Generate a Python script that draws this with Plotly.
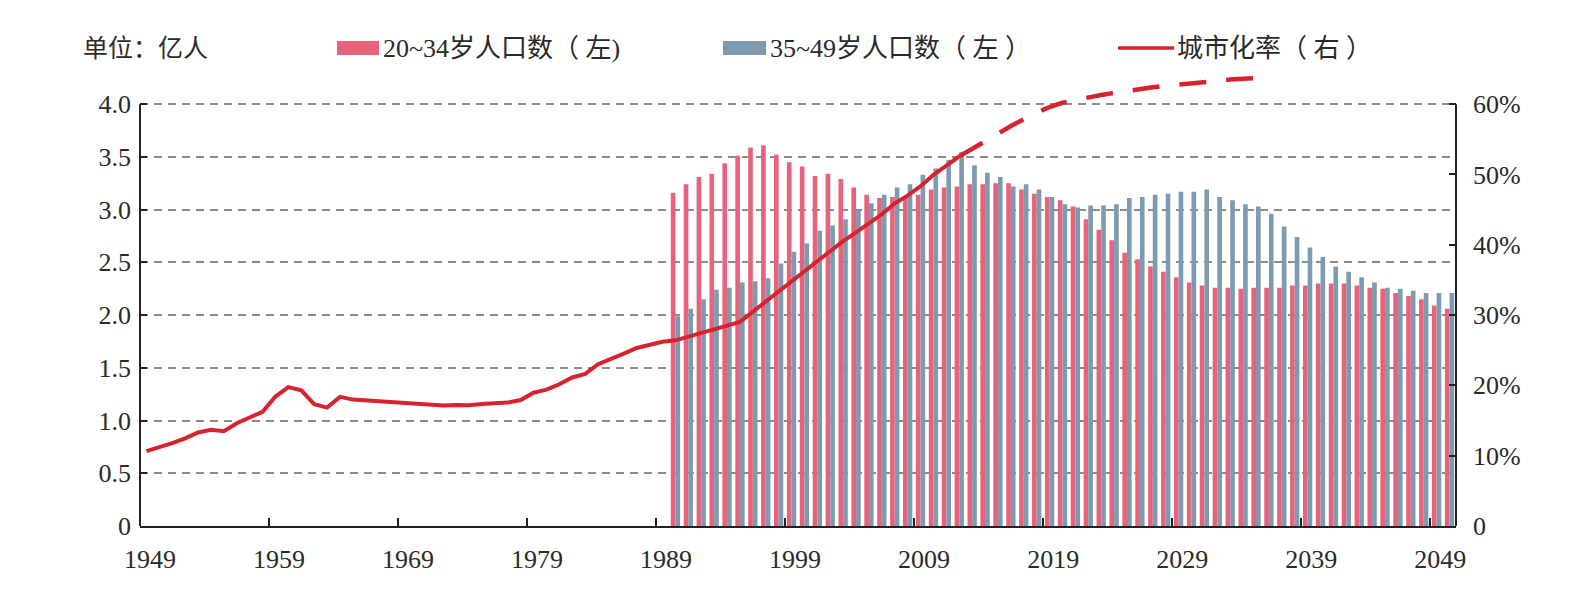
import plotly.graph_objects as go

# ---------------- data ----------------
bar_years = list(range(1990, 2051))
pop_20_34 = [3.16, 3.24, 3.31, 3.34, 3.44, 3.51, 3.59, 3.61, 3.52, 3.45,
             3.41, 3.32, 3.34, 3.29, 3.21, 3.14, 3.11, 3.12, 3.11, 3.14,
             3.19, 3.21, 3.22, 3.24, 3.24, 3.25, 3.25, 3.19, 3.15, 3.12,
             3.09, 3.03, 2.91, 2.81, 2.71, 2.59, 2.53, 2.46, 2.41, 2.36,
             2.31, 2.28, 2.26, 2.26, 2.25, 2.26, 2.26, 2.26, 2.28, 2.28,
             2.30, 2.30, 2.30, 2.28, 2.26, 2.25, 2.21, 2.18, 2.15, 2.09,
             2.06]
pop_35_49 = [1.99, 2.06, 2.15, 2.24, 2.26, 2.31, 2.32, 2.35, 2.49, 2.60,
             2.68, 2.80, 2.85, 2.91, 3.00, 3.06, 3.14, 3.21, 3.24, 3.33,
             3.39, 3.47, 3.55, 3.42, 3.35, 3.31, 3.22, 3.24, 3.19, 3.12,
             3.05, 3.02, 3.04, 3.04, 3.05, 3.11, 3.12, 3.14, 3.15, 3.17,
             3.17, 3.19, 3.12, 3.09, 3.05, 3.03, 2.96, 2.84, 2.74, 2.64,
             2.55, 2.46, 2.41, 2.36, 2.31, 2.26, 2.25, 2.23, 2.21, 2.21,
             2.21]

urban_years = list(range(1949, 2013))
urban_rate = [10.64, 11.18, 11.78, 12.46, 13.31, 13.69, 13.48, 14.62, 15.39, 16.25,
              18.41, 19.75, 19.29, 17.33, 16.84, 18.37, 17.98, 17.86, 17.74, 17.62,
              17.50, 17.38, 17.26, 17.13, 17.20, 17.16, 17.34, 17.44, 17.55, 17.92,
              18.96, 19.39, 20.16, 21.13, 21.62, 23.01, 23.71, 24.52, 25.32, 25.81,
              26.21, 26.41, 26.94, 27.46, 27.99, 28.51, 29.04, 30.48, 31.91, 33.35,
              34.78, 36.22, 37.66, 39.09, 40.53, 41.76, 42.99, 44.34, 45.89, 46.99,
              48.34, 49.95, 51.27, 52.57]

proj_years = list(range(2012, 2036))
urban_proj = [52.57, 53.7, 54.8, 55.8, 56.9, 57.9, 58.8, 59.6, 60.2, 60.6,
              61.0, 61.3, 61.6, 61.9, 62.1, 62.4, 62.6, 62.8, 63.0, 63.2,
              63.3, 63.5, 63.6, 63.7]

left_ticks = [0, 0.5, 1.0, 1.5, 2.0, 2.5, 3.0, 3.5, 4.0]
left_tick_text = ["0", "0.5", "1.0", "1.5", "2.0", "2.5", "3.0", "3.5", "4.0"]
right_ticks = [0, 10, 20, 30, 40, 50, 60]
right_tick_text = ["0", "10%", "20%", "30%", "40%", "50%", "60%"]
x_labels = ["1949", "1959", "1969", "1979", "1989", "1999", "2009", "2019", "2029", "2039", "2049"]

legend_unit = "单位：亿人"
name_a = "20~34岁人口数（ 左)"
name_b = "35~49岁人口数（ 左 ）"
name_c = "城市化率（ 右 ）"

# ---------------- style ----------------
PINK = "#E8627B"
BLUE = "#7D9BAE"
RED = "#D8232F"
TXT = "#2a2a2a"
FONT = "Liberation Serif, 'Noto Sans CJK SC', serif"

fig = go.Figure()
fig.add_trace(go.Bar(x=bar_years, y=pop_20_34, name=name_a, marker_color=PINK,
                     marker_line_width=0, yaxis="y"))
fig.add_trace(go.Bar(x=bar_years, y=pop_35_49, name=name_b, marker_color=BLUE,
                     marker_line_width=0, yaxis="y"))
fig.add_trace(go.Scatter(x=urban_years, y=urban_rate, name=name_c, mode="lines",
                         line=dict(color=RED, width=4), yaxis="y2"))
fig.add_trace(go.Scatter(x=proj_years, y=urban_proj, name=name_c + " 预测", mode="lines",
                         line=dict(color=RED, width=4.5, dash="27px,20px"), yaxis="y2",
                         showlegend=False))

x_tickvals = [int(s) - 0.5 for s in x_labels]

fig.update_layout(
    width=1586, height=596,
    margin=dict(l=140, r=130, t=62, b=70),
    paper_bgcolor="white", plot_bgcolor="white",
    barmode="group", bargap=0.28, bargroupgap=0.0,
    showlegend=False,
    font=dict(family=FONT, size=26, color=TXT),
    xaxis=dict(
        range=[1948.5, 2050.5],
        tickmode="array", tickvals=x_tickvals, ticktext=x_labels,
        ticklabelshift=10,
        ticks="inside", ticklen=8, tickwidth=1.5, tickcolor="#222",
        showline=True, linecolor="#222", linewidth=2,
        showgrid=False, zeroline=False,
        tickfont=dict(family=FONT, size=26, color=TXT),
        ticklabelstandoff=9,
    ),
    yaxis=dict(
        range=[0, 4.4],
        tickmode="array", tickvals=left_ticks, ticktext=left_tick_text,
        ticks="inside", ticklen=7, tickwidth=1.5, tickcolor="#222",
        showline=False, showgrid=True, gridcolor="#8c8c8c", gridwidth=1.5,
        griddash="8px,6px", zeroline=False,
        tickfont=dict(family=FONT, size=26, color=TXT),
        ticklabelstandoff=8,
    ),
    yaxis2=dict(
        range=[0, 66], overlaying="y", side="right",
        tickmode="array", tickvals=right_ticks, ticktext=right_tick_text,
        ticks="inside", ticklen=7, tickwidth=1.5, tickcolor="#222",
        showline=False, showgrid=False, zeroline=False,
        tickfont=dict(family=FONT, size=26, color=TXT),
        ticklabelstandoff=16,
    ),
)

# axis lines only up to the 4.0 / 60% level
fig.add_shape(type="line", xref="paper", yref="y", x0=0, x1=0, y0=0, y1=4.0,
              line=dict(color="#222", width=2))
fig.add_shape(type="line", xref="paper", yref="y", x0=1, x1=1, y0=0, y1=4.0,
              line=dict(color="#222", width=2))

# custom legend (pixel positions converted to paper coords)
W, H = 1586, 596
L, R, T, B = 140, 130, 62, 70
pw, ph = W - L - R, H - T - B


def px(x):
    return (x - L) / pw


def py(y):
    return (H - B - y) / ph


fig.add_annotation(text=legend_unit, xref="paper", yref="paper", x=px(81), y=py(48),
                   xanchor="left", yanchor="middle", showarrow=False,
                   font=dict(family=FONT, size=25, color=TXT))
fig.add_shape(type="rect", xref="paper", yref="paper", x0=px(337), x1=px(379),
              y0=py(55), y1=py(41), fillcolor=PINK, line_width=0)
fig.add_annotation(text=name_a, xref="paper", yref="paper", x=px(381), y=py(48),
                   xanchor="left", yanchor="middle", showarrow=False,
                   font=dict(family=FONT, size=26, color=TXT))
fig.add_shape(type="rect", xref="paper", yref="paper", x0=px(723), x1=px(766),
              y0=py(55), y1=py(41), fillcolor=BLUE, line_width=0)
fig.add_annotation(text=name_b, xref="paper", yref="paper", x=px(768), y=py(48),
                   xanchor="left", yanchor="middle", showarrow=False,
                   font=dict(family=FONT, size=26, color=TXT))
fig.add_shape(type="line", xref="paper", yref="paper", x0=px(1118), x1=px(1174),
              y0=py(48), y1=py(48), line=dict(color=RED, width=3.5))
fig.add_annotation(text=name_c, xref="paper", yref="paper", x=px(1175), y=py(48),
                   xanchor="left", yanchor="middle", showarrow=False,
                   font=dict(family=FONT, size=26, color=TXT))

fig.write_html("out.html")
